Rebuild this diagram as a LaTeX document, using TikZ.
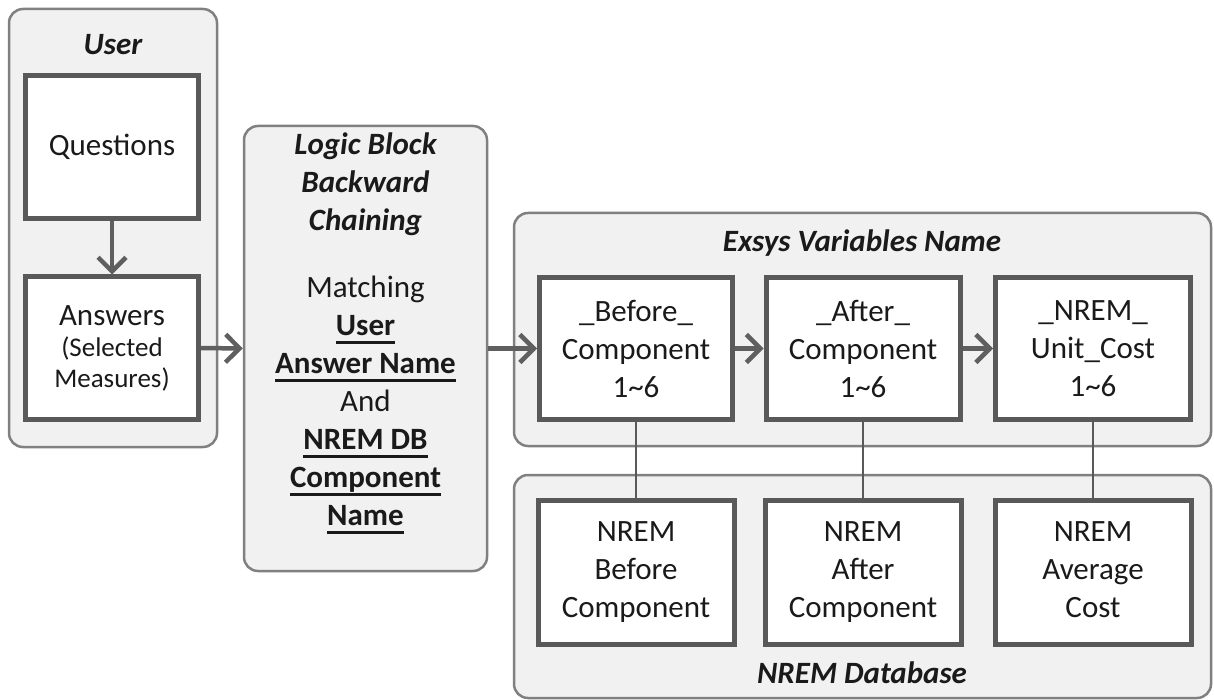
\documentclass[tikz,border=0pt]{standalone}
\usepackage{fontspec}
\setmainfont{Carlito}
\usetikzlibrary{arrows.meta}
\definecolor{cont}{HTML}{F1F1F1}
\definecolor{contline}{HTML}{808080}
\definecolor{boxline}{HTML}{595959}
\definecolor{arr}{HTML}{5F5F5F}
\definecolor{txt}{HTML}{1A1A1A}
\newcommand\ulbold[1]{\setbox0\hbox{\bfseries #1}\rlap{\rule[-8pt]{\wd0}{3pt}}\box0}
\newcommand\smallparen{\fontsize{27}{30}\selectfont}
\begin{document}
\begin{tikzpicture}[x=1pt,y=-1pt,
  font=\fontsize{31}{38}\selectfont, text=txt,
  container/.style={draw=contline, line width=2.5pt, fill=cont, rounded corners=14pt, inner sep=0pt},
  inbox/.style={draw=boxline, line width=5pt, fill=white, align=center, inner sep=0pt},
  flow/.style={draw=arr, line width=4.5pt, -{Straight Barb[length=14pt,width=28pt,line width=4.5pt]}},
  link/.style={draw=boxline, line width=2pt},
  titletext/.style={font=\fontsize{31}{38}\selectfont\bfseries\itshape}]
\useasboundingbox (0,0) rectangle (1214,700);
% containers
\node[container, minimum width=208pt, minimum height=438pt] (userbox) at (113,228) {};
\node[container, minimum width=243pt, minimum height=445pt] (logic) at (365.5,348.5) {};
\node[container, minimum width=697pt, minimum height=233pt] (exsys) at (862.5,329.5) {};
\node[container, minimum width=697pt, minimum height=223pt] (nremdb) at (862.5,586.5) {};
% titles
\node[titletext] (usert) at (113,45) {User};
\node[titletext, align=center] (logict) at (365.5,184.5) {Logic Block\\Backward\\Chaining};
\node[align=center] (logicb) at (365.5,405) {Matching\\\ulbold{User}\\\ulbold{Answer Name}\\And\\\ulbold{NREM DB}\\\ulbold{Component}\\\ulbold{Name}};
\node[titletext] (exsyst) at (862,243) {Exsys Variables Name};
\node[titletext] (nremt) at (862,673) {NREM Database};
% inner boxes
\node[inbox, minimum width=173pt, minimum height=143pt] (questions) at (112,147) {Questions};
\node[inbox, minimum width=173pt, minimum height=142pt] (answers) at (112,348) {Answers\\[-7pt]{\smallparen(Selected}\\[-7pt]{\smallparen Measures)}};
\node[inbox, minimum width=193pt, minimum height=142pt] (before) at (636,348.5) {\_Before\_\\Component\\1\textasciitilde6};
\node[inbox, minimum width=194pt, minimum height=142pt] (after) at (863,348.5) {\_After\_\\Component\\1\textasciitilde6};
\node[inbox, minimum width=195pt, minimum height=142pt] (unit) at (1093,348.5) {\_NREM\_\\Unit\_Cost\\1\textasciitilde6};
\node[inbox, minimum width=196pt, minimum height=144pt] (nb1) at (636,572.5) {NREM\\Before\\Component};
\node[inbox, minimum width=196pt, minimum height=144pt] (nb2) at (863,572.5) {NREM\\After\\Component};
\node[inbox, minimum width=196pt, minimum height=144pt] (nb3) at (1093,572.5) {NREM\\Average\\Cost\vphantom{p}};
% connectors
\draw[flow] (questions.south) -- (answers.north);
\draw[flow] (answers.east) -- (logic.west);
\draw[flow] (logic.east) -- (before.west);
\draw[flow] (before.east) -- (after.west);
\draw[flow] (after.east) -- (unit.west);
\draw[link] (before.south) -- (nb1.north);
\draw[link] (after.south) -- (nb2.north);
\draw[link] (unit.south) -- (nb3.north);
\end{tikzpicture}
\end{document}
